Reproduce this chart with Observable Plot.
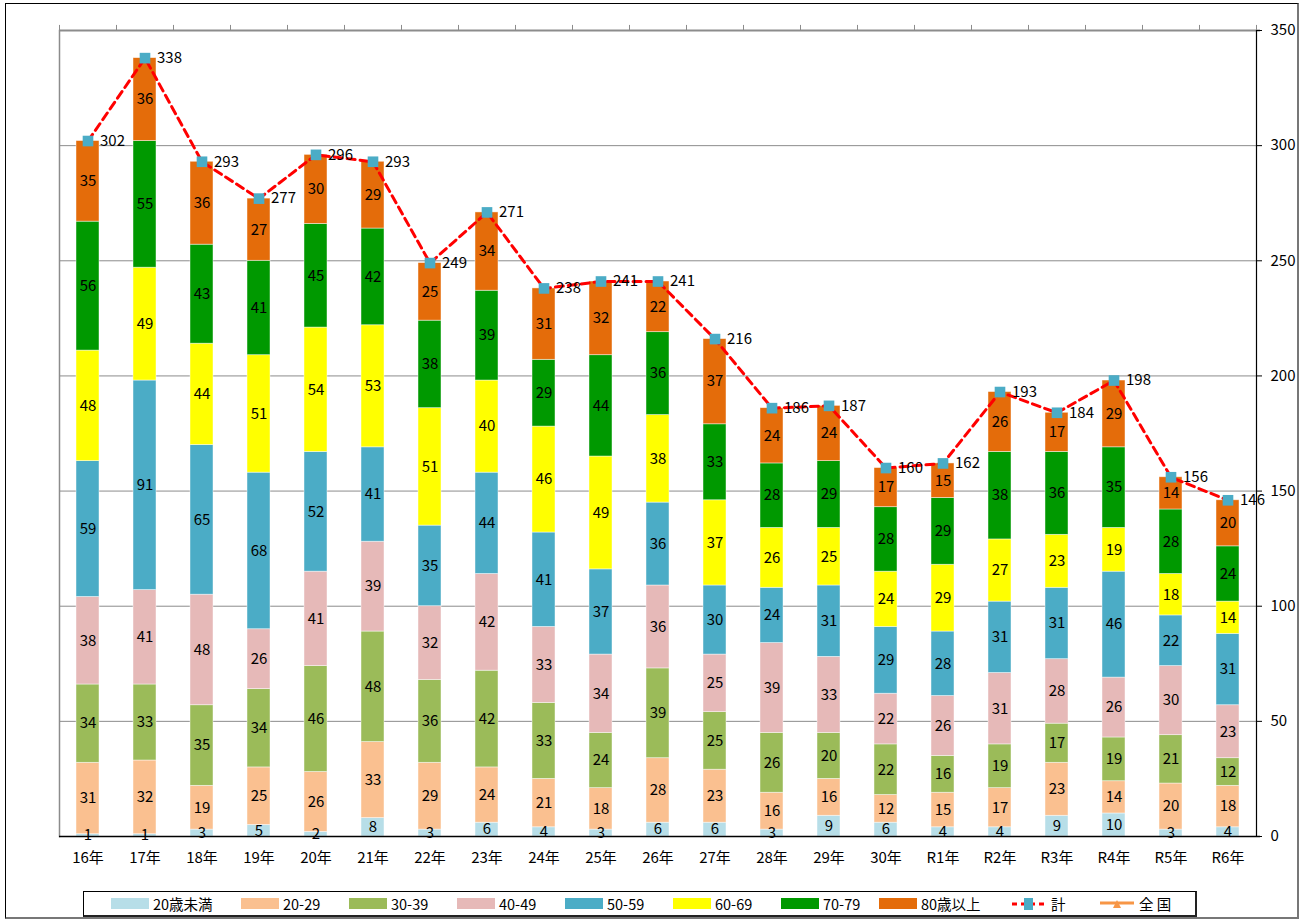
<!DOCTYPE html>
<html>
<head>
<meta charset="utf-8">
<script src="https://cdn.jsdelivr.net/npm/d3@7"></script>
<script src="https://cdn.jsdelivr.net/npm/@observablehq/plot@0.6"></script>
<style>
  html, body { margin: 0; padding: 0; background: #fff; }
  body { width: 1304px; height: 920px; position: relative; overflow: hidden;
         font-family: "Noto Sans CJK JP", "Noto Sans", sans-serif; }
  #frame { position: absolute; left: 5px; top: 3px; width: 1291px; height: 913px;
           border: 1px solid #000; border-right: 2px solid #777; border-bottom: 2px solid #777; }
  #chart { position: absolute; left: 0; top: 0; }
  #legend { position: absolute; left: 83px; top: 891px; width: 1111px; height: 23px;
            border: 1px solid #000; border-right: 2px solid #222; border-bottom: 2px solid #222;
            background: #fff; font-size: 14.5px; }
  .item { position: absolute; top: 0; height: 23px; display: flex; align-items: center; white-space: nowrap; }
  .sw { display: inline-block; width: 38px; height: 11px; margin-right: 4px; }
</style>
</head>
<body>
<div id="frame"></div>
<div id="chart"></div>
<div id="legend"></div>
<script>
const years = ["16年","17年","18年","19年","20年","21年","22年","23年","24年","25年","26年","27年","28年","29年","30年","R1年","R2年","R3年","R4年","R5年","R6年"];
const ages = ["20歳未満","20-29","30-39","40-49","50-59","60-69","70-79","80歳以上"];
const colors = ["#B7DEE8","#FAC090","#9BBB59","#E6B9B8","#4BACC6","#FFFF00","#009900","#E46C0A"];

const under20 = [1,1,3,5,2,8,3,6,4,3,6,6,3,9,6,4,4,9,10,3,4];
const age20s  = [31,32,19,25,26,33,29,24,21,18,28,23,16,16,12,15,17,23,14,20,18];
const age30s  = [34,33,35,34,46,48,36,42,33,24,39,25,26,20,22,16,19,17,19,21,12];
const age40s  = [38,41,48,26,41,39,32,42,33,34,36,25,39,33,22,26,31,28,26,30,23];
const age50s  = [59,91,65,68,52,41,35,44,41,37,36,30,24,31,29,28,31,31,46,22,31];
const age60s  = [48,49,44,51,54,53,51,40,46,49,38,37,26,25,24,29,27,23,19,18,14];
const age70s  = [56,55,43,41,45,42,38,39,29,44,36,33,28,29,28,29,38,36,35,28,24];
const age80p  = [35,36,36,27,30,29,25,34,31,32,22,37,24,24,17,15,26,17,29,14,20];
const totals  = [302,338,293,277,296,293,249,271,238,241,241,216,186,187,160,162,193,184,198,156,146];
const yTicks  = [0,50,100,150,200,250,300,350];

const series = [under20, age20s, age30s, age40s, age50s, age60s, age70s, age80p];
const rows = [];
years.forEach((yr, i) => {
  ages.forEach((a, j) => rows.push({year: yr, age: a, value: series[j][i]}));
});
const totalRows = years.map((yr, i) => ({year: yr, total: totals[i]}));

const font = "'Noto Sans CJK JP', 'Noto Sans', sans-serif";
const step = (1256 - 59) / years.length;

const plot = Plot.plot({
  width: 1304,
  height: 875,
  marginLeft: 59,
  marginRight: 48,
  marginTop: 30,
  marginBottom: 39,
  style: {fontFamily: font, fontSize: "15px", color: "#000", background: "transparent"},
  x: {domain: years, paddingInner: 0.6, paddingOuter: 0.3},
  y: {domain: [0, 350]},
  color: {domain: ages, range: colors},
  marks: [
    Plot.ruleY(yTicks.filter(d => d > 0 && d < 350), {stroke: "#8c8c8c", strokeWidth: 1}),
    Plot.frame({anchor: "left", stroke: "#8c8c8c", strokeWidth: 1.5}),
    Plot.barY(rows, {x: "year", y: "value", fill: "age", order: null, stroke: "#ffffff", strokeOpacity: 0.6, strokeWidth: 0.75}),
    Plot.text(rows, Plot.stackY({x: "year", y: "value", z: "age", order: null, text: d => String(d.value), fill: "#000", fontSize: 15})),
    Plot.line(totalRows, {x: "year", y: "total", stroke: "#FF0000", strokeWidth: 3, strokeDasharray: "8,5"}),
    Plot.dot(totalRows, {x: "year", y: "total", symbol: "square", r: 6, fill: "#4BACC6", stroke: "none"}),
    Plot.text(totalRows, {x: "year", y: "total", text: d => String(d.total), textAnchor: "start", dx: 12, fill: "#000", fontSize: 15}),
    Plot.ruleY([350], {stroke: "#8c8c8c", strokeWidth: 2, insetRight: -4}),
    Plot.ruleX(years, {x: d => d, dx: -step / 2, y1: 350, y2: 352.2, stroke: "#8c8c8c", strokeWidth: 1}),
    Plot.ruleX(years.slice(-1), {x: d => d, dx: step / 2, y1: 350, y2: 352.2, stroke: "#8c8c8c", strokeWidth: 1}),
    Plot.frame({anchor: "right", stroke: "#000", strokeWidth: 1.2}),
    Plot.ruleY([0], {stroke: "#000", strokeWidth: 1.5, insetRight: -4}),
    Plot.axisY({anchor: "right", ticks: yTicks, tickSize: 5, tickPadding: 9, fontSize: 15, label: null}),
    Plot.axisX({anchor: "bottom", tickSize: 0, tickPadding: 16, fontSize: 15, label: null})
  ]
});
document.getElementById("chart").appendChild(plot);

// Legend
const legend = document.getElementById("legend");
const swX = [27, 157, 265, 373, 481, 589, 697, 795];
ages.forEach((a, j) => {
  const it = document.createElement("div");
  it.className = "item";
  it.style.left = swX[j] + "px";
  it.innerHTML = `<span class="sw" style="background:${colors[j]}"></span><span>${a}</span>`;
  legend.appendChild(it);
});
function lineItem(left, html, label) {
  const it = document.createElement("div");
  it.className = "item";
  it.style.left = left + "px";
  it.innerHTML = html + `<span style="margin-left:4px">${label}</span>`;
  legend.appendChild(it);
}
lineItem(927,
  `<svg width="36" height="14"><line x1="1" y1="7" x2="35" y2="7" stroke="#FF0000" stroke-width="3" stroke-dasharray="5,4"/><rect x="13" y="1" width="9" height="12" fill="#4BACC6"/></svg>`,
  "計");
lineItem(1015,
  `<svg width="36" height="14"><line x1="1" y1="6" x2="35" y2="6" stroke="#F79646" stroke-width="3"/><path d="M18,3 L22,11 L14,11 Z" fill="#F79646"/></svg>`,
  "全&nbsp;国");
</script>
</body>
</html>
